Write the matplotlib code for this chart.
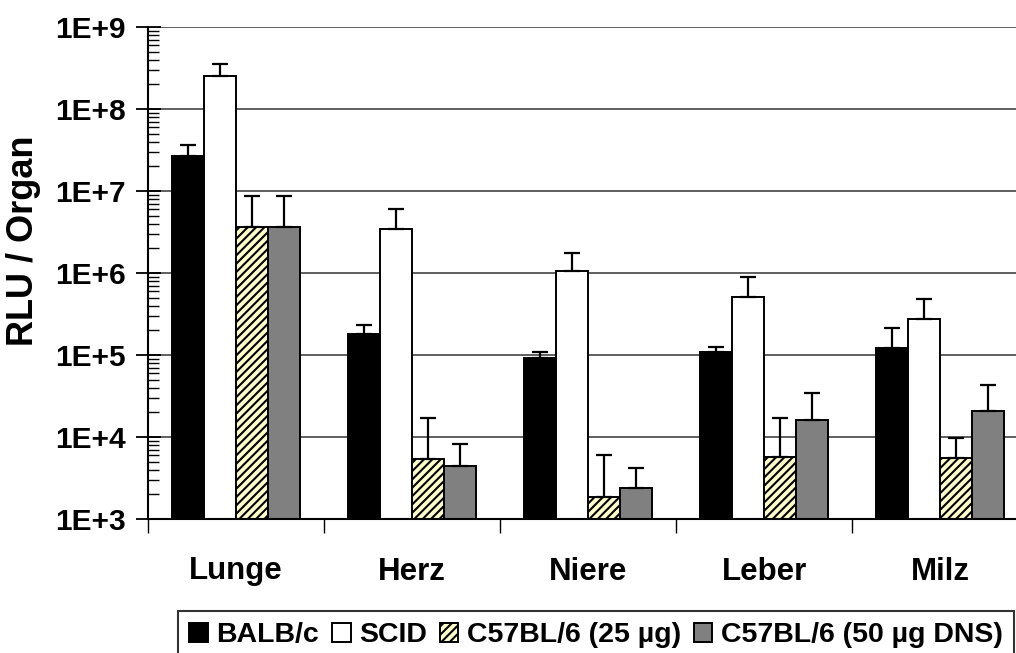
import numpy as np
import matplotlib
matplotlib.use("Agg")
import matplotlib.pyplot as plt
from matplotlib.ticker import FixedLocator, FuncFormatter, LogLocator, NullFormatter

# data (RLU per organ, mean and upper SD)
organs = ['Lunge', 'Herz', 'Niere', 'Leber', 'Milz']
series = ['BALB/c', 'SCID', 'C57BL/6 (25 µg)', 'C57BL/6 (50 µg DNS)']

balb = [2.7e7, 1.8e5, 9.3e4, 1.1e5, 1.23e5]
balb_err = [9.0e6, 5.0e4, 1.6e4, 1.4e4, 9.1e4]
scid = [2.55e8, 3.4e6, 1.07e6, 5.1e5, 2.72e5]
scid_err = [9.5e7, 2.6e6, 6.8e5, 3.8e5, 2.1e5]
c57_25 = [3.6e6, 5.35e3, 1.87e3, 5.7e3, 5.5e3]
c57_25_err = [5.1e6, 1.17e4, 4.1e3, 1.13e4, 4.3e3]
c57_50 = [3.6e6, 4.4e3, 2.4e3, 1.6e4, 2.05e4]
c57_50_err = [5.1e6, 3.8e3, 1.8e3, 1.8e4, 2.25e4]

plt.rcParams['font.family'] = ['Liberation Sans', 'DejaVu Sans']
plt.rcParams['font.weight'] = 'bold'
plt.rcParams['hatch.linewidth'] = 1.5

fig = plt.figure(figsize=(10.16, 6.53), dpi=100)
# plot area runs past the right edge, as in the (cropped) original
ax = fig.add_axes([148 / 1016, 134 / 653, 880 / 1016, 492 / 653])

x = np.arange(len(organs))
w = 0.182
styles = [
    dict(color='black', hatch=None),
    dict(color='white', hatch=None),
    dict(color='#FFFFCC', hatch='////'),
    dict(color='#808080', hatch=None),
]
vals = [balb, scid, c57_25, c57_50]
errs = [balb_err, scid_err, c57_25_err, c57_50_err]

handles = []
for i, (v, e, st) in enumerate(zip(vals, errs, styles)):
    pos = x + (i - 1.5) * w
    b = ax.bar(pos, v, width=w, color=st['color'], hatch=st['hatch'],
               edgecolor='black', linewidth=1.4, zorder=2, label=series[i])
    ax.errorbar(pos, v, yerr=[np.zeros(len(v)), e], fmt='none',
                ecolor='black', elinewidth=1.6, capsize=5.8, capthick=1.6,
                zorder=3)
    handles.append(b)

ax.set_yscale('log')
ax.set_ylim(1e3, 1e9)
ax.set_xlim(-0.5, len(organs) - 0.5)

ax.yaxis.set_major_locator(LogLocator(base=10, numticks=10))
ax.yaxis.set_minor_locator(LogLocator(base=10, subs=np.arange(2, 10), numticks=100))
ax.yaxis.set_minor_formatter(NullFormatter())
ax.yaxis.set_major_formatter(FuncFormatter(lambda v, p: f"1E+{int(round(np.log10(v)))}"))
ax.tick_params(axis='y', which='major', direction='inout', length=18, width=1.3,
               labelsize=21.5, pad=7)
ax.tick_params(axis='y', which='minor', direction='in', length=8, width=1.0)

ax.set_xticks(x)
ax.set_xticklabels(organs)
ax.xaxis.set_minor_locator(FixedLocator(np.arange(-0.5, len(organs), 1.0)))
ax.tick_params(axis='x', which='major', length=0, labelsize=22.5, pad=27)
ax.tick_params(axis='x', which='minor', direction='out', length=10, width=1.0)

ax.grid(axis='y', which='major', color='#444444', linewidth=1.2)
ax.set_axisbelow(True)

for s in ['top', 'right']:
    ax.spines[s].set_visible(False)
for s in ['left', 'bottom']:
    ax.spines[s].set_linewidth(1.5)

ax.set_ylabel('RLU / Organ', fontsize=26, fontweight='bold')
ax.yaxis.set_label_coords(-0.122, 0.565)

leg = fig.legend(handles=handles, loc='upper left', ncol=4,
                 bbox_to_anchor=(178 / 1016, 1 - 611 / 653),
                 fontsize=20.5, frameon=True, fancybox=False,
                 handlelength=0.65, handleheight=0.65, handletextpad=0.3,
                 columnspacing=0.45, borderpad=0.4, borderaxespad=0)
leg.get_frame().set_edgecolor('black')
leg.get_frame().set_linewidth(1.5)

fig.savefig('out.png', dpi=100)
